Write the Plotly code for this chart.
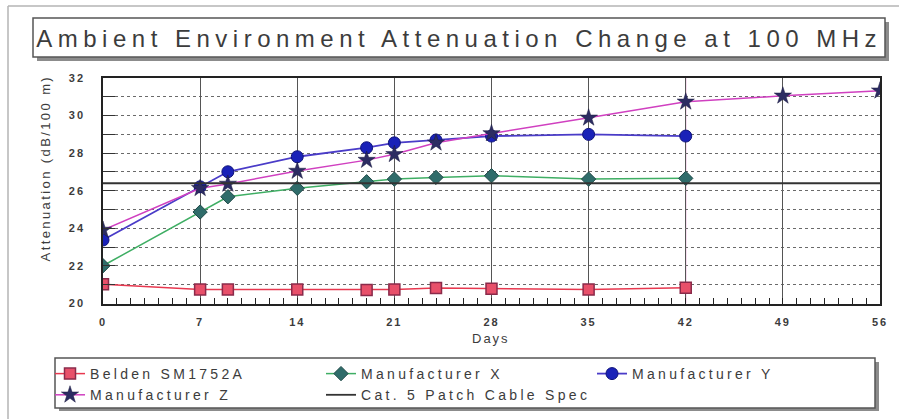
import plotly.graph_objects as go

# Measurement days and attenuation readings (dB/100 m) at 100 MHz
days = [0, 7, 9, 14, 19, 21, 24, 28, 35, 42]
days_z = [0, 7, 9, 14, 19, 21, 24, 28, 35, 42, 49, 56]
belden = [21.02, 20.75, 20.75, 20.75, 20.72, 20.75, 20.82, 20.79, 20.75, 20.84]
manuf_x = [22.01, 24.87, 25.68, 26.13, 26.48, 26.62, 26.71, 26.80, 26.62, 26.66]
manuf_y = [23.38, 26.21, 27.01, 27.81, 28.29, 28.55, 28.70, 28.91, 29.00, 28.91]
manuf_z = [23.91, 26.13, 26.36, 27.05, 27.63, 27.94, 28.55, 29.05, 29.88, 30.73, 31.05, 31.32]
spec_days = [0, 56]
spec_value = 26.4

W, H = 899, 419
FONT = "Liberation Sans, Arial, sans-serif"
TXT = "#3c3c3c"


def px(x):
    return x / W


def py(y):
    return 1 - y / H


fig = go.Figure()

fig.add_trace(go.Scatter(
    x=days, y=belden, name="Belden SM1752A", mode="lines+markers",
    line=dict(color="#e8384f", width=1.5),
    marker=dict(symbol="square", size=11, color="#e8506a",
                line=dict(color="#8a2a4a", width=1.5)),
))
fig.add_trace(go.Scatter(
    x=days, y=manuf_x, name="Manufacturer X", mode="lines+markers",
    line=dict(color="#3fae64", width=1.5),
    marker=dict(symbol="diamond", size=11, color="#2f6c6a",
                line=dict(color="#1f4a48", width=1)),
))
fig.add_trace(go.Scatter(
    x=days, y=manuf_y, name="Manufacturer Y", mode="lines+markers",
    line=dict(color="#4a3cc8", width=1.8),
    marker=dict(symbol="circle", size=12, color="#1a22b8",
                line=dict(color="#10147a", width=1)),
))
fig.add_trace(go.Scatter(
    x=days_z, y=manuf_z, name="Manufacturer Z", mode="lines+markers",
    line=dict(color="#d040c0", width=1.5),
    marker=dict(symbol="star", size=13, color="#2c2c62",
                line=dict(color="#1c1c40", width=0.5)),
))
fig.add_trace(go.Scatter(
    x=spec_days, y=[spec_value, spec_value], name="Cat. 5 Patch Cable Spec",
    mode="lines", line=dict(color="#333333", width=1.8),
))

shapes = [
    # page frame
    dict(type="line", xref="paper", yref="paper", x0=px(8), x1=px(8), y0=py(6), y1=py(419),
         line=dict(color="#b4b4b4", width=1.5)),
    dict(type="line", xref="paper", yref="paper", x0=px(8), x1=px(899), y0=py(6), y1=py(6),
         line=dict(color="#b4b4b4", width=1.5)),
    # title box with drop shadow
    dict(type="rect", xref="paper", yref="paper", x0=px(37), x1=px(889), y0=py(22), y1=py(61),
         fillcolor="#8c8c8c", line=dict(width=0)),
    dict(type="rect", xref="paper", yref="paper", x0=px(33), x1=px(885), y0=py(18), y1=py(57),
         fillcolor="white", line=dict(color="#555555", width=1.5)),
    # legend box with drop shadow
    dict(type="rect", xref="paper", yref="paper", x0=px(59), x1=px(879), y0=py(362), y1=py(411),
         fillcolor="#8c8c8c", line=dict(width=0)),
    dict(type="rect", xref="paper", yref="paper", x0=px(55), x1=px(875), y0=py(358), y1=py(408),
         fillcolor="white", line=dict(color="#555555", width=1.5)),
    # marker line at day 42
    dict(type="line", xref="x", yref="y", x0=42, x1=42, y0=20, y1=32.2,
         line=dict(color="#e8a0d4", width=1.2), layer="below"),
]

annotations = [
    dict(text="Ambient Environment Attenuation Change at 100 MHz", xref="paper", yref="paper",
         x=px(459), y=py(38), xanchor="center", yanchor="middle", showarrow=False,
         font=dict(family=FONT, size=24, color=TXT)),
    dict(text="Days", xref="paper", yref="paper", x=px(491), y=py(338),
         xanchor="center", yanchor="middle", showarrow=False,
         font=dict(family=FONT, size=13, color=TXT)),
    dict(text="Attenuation (dB/100 m)", xref="paper", yref="paper", x=px(45), y=py(168),
         xanchor="center", yanchor="middle", showarrow=False, textangle=-90,
         font=dict(family=FONT, size=13, color=TXT)),
]

fig.update_layout(
    width=W, height=H, template="none",
    margin=dict(l=0, r=0, t=0, b=0, autoexpand=False),
    paper_bgcolor="white", plot_bgcolor="white",
    shapes=shapes, annotations=annotations,
    showlegend=True,
    legend=dict(
        orientation="h", x=px(50), y=py(358), xanchor="left", yanchor="top",
        entrywidth=226, entrywidthmode="pixels", bgcolor="rgba(0,0,0,0)",
        borderwidth=0, font=dict(family=FONT, size=14, color=TXT),
        itemwidth=30, tracegroupgap=0,
    ),
    xaxis=dict(
        domain=[px(103), px(880)], range=[0, 56], tickmode="array",
        tickvals=[0, 7, 14, 21, 28, 35, 42, 49, 56], automargin=False,
        showgrid=True, gridcolor="#555555", gridwidth=1,
        showline=True, linecolor="#222222", linewidth=1.5, mirror=True,
        ticks="inside", ticklen=6, tickcolor="#222222",
        minor=dict(dtick=1, ticks="inside", ticklen=6, tickcolor="#222222", showgrid=False),
        ticklabelstandoff=8,
        tickfont=dict(family=FONT, size=11, color=TXT, weight="bold"),
        zeroline=False,
    ),
    yaxis=dict(
        domain=[py(303.5), py(78)], range=[20, 32], dtick=2, automargin=False,
        showgrid=True, gridcolor="#6a6a6a", gridwidth=1, griddash="dot",
        showline=True, linecolor="#222222", linewidth=1.5, mirror=True,
        ticks="inside", ticklen=12, tickcolor="#333333",
        minor=dict(dtick=1, ticks="inside", ticklen=12, tickcolor="#333333",
                   showgrid=True, gridcolor="#6a6a6a", griddash="dot", gridwidth=1),
        ticklabelstandoff=14,
        tickfont=dict(family=FONT, size=11, color=TXT, weight="bold"),
        zeroline=False,
    ),
)

# widen the letter spacing of the typewriter-style labels once drawn
spacing_js = """
var gd = document.getElementById('{plot_id}');
function sp(sel, v) { gd.querySelectorAll(sel).forEach(function(t){ t.style.letterSpacing = v; }); }
gd.querySelectorAll('.annotation-text').forEach(function(t){
  var s = t.textContent;
  if (s.indexOf('Ambient') === 0) t.style.letterSpacing = '5.5px';
  else if (s.indexOf('Attenuation') === 0) t.style.letterSpacing = '2.4px';
  else t.style.letterSpacing = '2px';
});
sp('.legendtext', '3.3px');
sp('.xtick text', '2px');
sp('.ytick text', '2px');
"""

fig.write_html("out.html", post_script=spacing_js)
